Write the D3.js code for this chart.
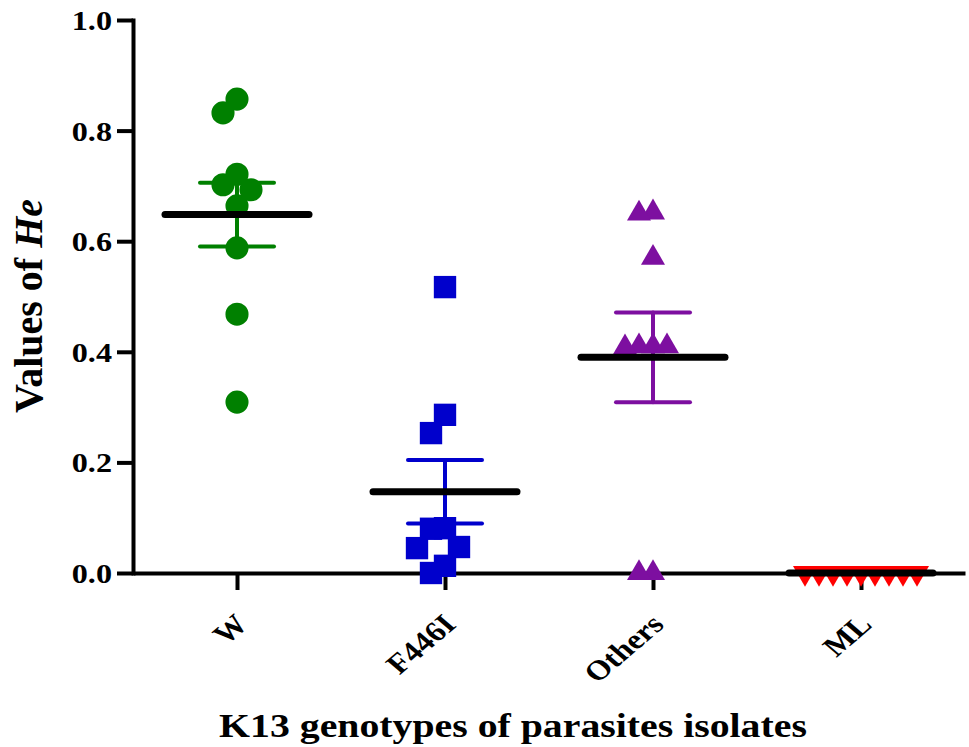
<!DOCTYPE html>
<html>
<head>
<meta charset="utf-8">
<script src="https://cdn.jsdelivr.net/npm/d3@7"></script>
<style>
body { margin: 0; background: #fff; }
svg { display: block; }
</style>
</head>
<body>
<svg id="chart" width="969" height="747"></svg>
<script>
// data (He per isolate, per K13 genotype)
var categories = ["W", "F446I", "Others", "ML"];
var valuesW = [0.857, 0.832, 0.721, 0.702, 0.693, 0.664, 0.588, 0.468, 0.309];
var valuesF446I = [0.517, 0.286, 0.253, 0.081, 0.080, 0.047, 0.045, 0.013, 0.000];
var valuesOthers = [0.652, 0.650, 0.570, 0.410, 0.410, 0.410, 0.408, 0.000, 0.000];
var valuesML = [0, 0, 0, 0, 0, 0, 0, 0, 0];
var yTickValues = [0, 0.2, 0.4, 0.6, 0.8, 1.0];

var groups = [
    { name: categories[0], values: valuesW, color: "#008000", shape: d3.symbolCircle, size: 420, rot: 0 },
    { name: categories[1], values: valuesF446I, color: "#0000cc", shape: d3.symbolSquare, size: 500, rot: 0 },
    { name: categories[2], values: valuesOthers, color: "#7d0fa0", shape: d3.symbolTriangle, size: 250, rot: 0 },
    { name: categories[3], values: valuesML, color: "#ff0000", shape: d3.symbolTriangle, size: 250, rot: 180 }
];

var svg = d3.select("#chart");
var FONT = "'Liberation Serif', 'Times New Roman', serif";

var x = d3.scalePoint().domain(categories).range([133, 965]).padding(0.5);
var y = d3.scaleLinear().domain([0, 1]).range([573, 20]);

// simple column scatter: push colliding points sideways
function swarm(values, step, rx, ry) {
    var placed = [];
    return values.map(function (v) {
        var py = y(v);
        for (var k = 0; k < 50; k++) {
            var cands = k === 0 ? [0] : [-k * step, k * step];
            for (var i = 0; i < cands.length; i++) {
                var c = cands[i];
                var ok = placed.every(function (p) {
                    return Math.abs(p.dx - c) >= rx || Math.abs(p.py - py) >= ry;
                });
                if (ok) {
                    placed.push({ dx: c, py: py });
                    return c;
                }
            }
        }
        return 0;
    });
}

// ---- axes ----
var yAxis = svg.append("g")
    .attr("transform", "translate(133,0)")
    .call(d3.axisLeft(y).tickValues(yTickValues).tickSize(16).tickSizeOuter(0).tickFormat(d3.format(".1f")));
yAxis.select(".domain").attr("stroke", "#000").attr("stroke-width", 4).attr("stroke-linecap", "square");
yAxis.selectAll(".tick line").attr("stroke", "#000").attr("stroke-width", 4);
yAxis.selectAll(".tick text")
    .attr("x", null)
    .attr("dy", "0.34em")
    .attr("transform", "translate(-21,0) scale(1.15,1)")
    .attr("font-family", FONT).attr("font-size", 28).attr("font-weight", "bold").attr("fill", "#000");

var xAxis = svg.append("g")
    .attr("transform", "translate(0,573)")
    .call(d3.axisBottom(x).tickSize(17).tickSizeOuter(0));
xAxis.select(".domain").attr("stroke", "#000").attr("stroke-width", 4);
xAxis.selectAll(".tick line").attr("stroke", "#000").attr("stroke-width", 4);
xAxis.selectAll(".tick text")
    .attr("y", null)
    .attr("dy", null)
    .attr("text-anchor", "end")
    .attr("transform", "translate(12,53) scale(1.17,1) rotate(-45)")
    .attr("font-family", FONT).attr("font-size", 28).attr("font-weight", "bold").attr("fill", "#000");

// ---- points ----
groups.forEach(function (g) {
    var offs = swarm(g.values, 14, 14, 22);
    var cx = x(g.name);
    svg.append("g").selectAll("path").data(g.values).enter()
        .append("path")
        .attr("d", d3.symbol().type(g.shape).size(g.size))
        .attr("fill", g.color)
        .attr("transform", function (d, i) {
            return "translate(" + (cx + offs[i]) + "," + y(d) + ") rotate(" + g.rot + ")";
        });
});

// ---- mean +/- SEM ----
groups.forEach(function (g) {
    var cx = x(g.name);
    var m = d3.mean(g.values);
    var sem = (d3.deviation(g.values) || 0) / Math.sqrt(g.values.length);
    var eb = svg.append("g").attr("stroke", g.color).attr("stroke-width", 4).attr("stroke-linecap", "round");
    eb.append("line").attr("x1", cx).attr("x2", cx).attr("y1", y(m - sem)).attr("y2", y(m + sem));
    [m - sem, m + sem].forEach(function (v) {
        eb.append("line").attr("x1", cx - 37).attr("x2", cx + 37).attr("y1", y(v)).attr("y2", y(v));
    });
    svg.append("line")
        .attr("x1", cx - 72).attr("x2", cx + 72)
        .attr("y1", y(m)).attr("y2", y(m))
        .attr("stroke", "#000").attr("stroke-width", 7).attr("stroke-linecap", "round");
});

// ---- titles ----
svg.append("text")
    .attr("transform", "translate(42,306) rotate(-90)")
    .attr("text-anchor", "middle")
    .attr("font-family", FONT).attr("font-size", 40).attr("font-weight", "bold")
    .text("Values of ")
    .append("tspan").attr("font-style", "italic").text("He");

svg.append("text")
    .attr("transform", "translate(513,737) scale(1.17,1)")
    .attr("text-anchor", "middle")
    .attr("font-family", FONT).attr("font-size", 34).attr("font-weight", "bold")
    .text("K13 genotypes of parasites isolates");
</script>
</body>
</html>
